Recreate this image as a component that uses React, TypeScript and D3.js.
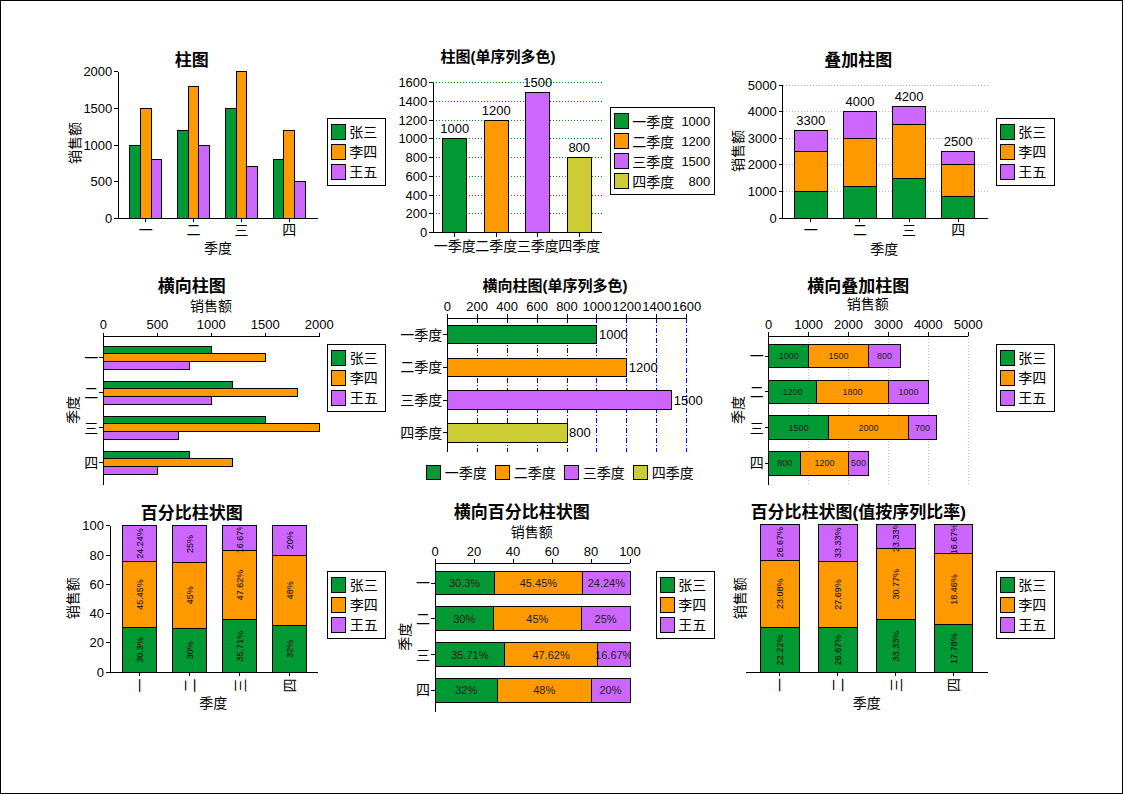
import React from "react";
import * as d3 from "d3";

const quarters = ["一", "二", "三", "四"];
const quarterNames = ["一季度", "二季度", "三季度", "四季度"];
const seriesNames = ["张三", "李四", "王五"];
const zhangSan = [1000, 1200, 1500, 800];
const liSi = [1500, 1800, 2000, 1200];
const wangWu = [800, 1000, 700, 500];
const singleValues = [1000, 1200, 1500, 800];
const seriesColors = ["#009933", "#ff9900", "#cc66ff"];
const quarterColors = ["#009933", "#ff9900", "#cc66ff", "#cccc33"];
const ticksGroup = [0, 500, 1000, 1500, 2000];
const ticksSingle = [0, 200, 400, 600, 800, 1000, 1200, 1400, 1600];
const ticksStack = [0, 1000, 2000, 3000, 4000, 5000];
const ticksPct = [0, 20, 40, 60, 80, 100];
const titles = [
  "柱图",
  "柱图(单序列多色)",
  "叠加柱图",
  "横向柱图",
  "横向柱图(单序列多色)",
  "横向叠加柱图",
  "百分比柱状图",
  "横向百分比柱状图",
  "百分比柱状图(值按序列比率)",
];
const valueAxisTitle = "销售额";
const categoryAxisTitle = "季度";

const seriesValues = [zhangSan, liSi, wangWu];

const FONT = '"Liberation Sans", "Noto Sans CJK SC", sans-serif';

const rows = quarters.map((q, i) => {
  const r: any = { q };
  seriesNames.forEach((s, j) => (r[s] = seriesValues[j][i]));
  return r;
});
const stacked = d3.stack<any>().keys(seriesNames)(rows);
const stackedPct = d3.stack<any>().keys(seriesNames).offset(d3.stackOffsetExpand)(rows);
const totals = rows.map((r) => d3.sum(seriesNames, (s) => r[s]));
const seriesTotals = seriesValues.map((v) => d3.sum(v));
const fmtPct = (v: number) => `${+v.toFixed(2)}%`;

function Title({ x, y, text, size = 17 }: any) {
  return (
    <text x={x} y={y} textAnchor="middle" dominantBaseline="central" fontSize={size} fontWeight="bold" fontFamily={FONT}>
      {text}
    </text>
  );
}

function Label({ x, y, text, rotate = false, size = 14 }: any) {
  return (
    <text
      transform={`translate(${x},${y})${rotate ? " rotate(-90)" : ""}`}
      textAnchor="middle"
      dominantBaseline="central"
      fontSize={size}
      fontFamily={FONT}
    >
      {text}
    </text>
  );
}

function Legend({ x, y, w, names, colors, values }: any) {
  const h = names.length * 20 + 7;
  return (
    <g>
      <rect x={x} y={y} width={w} height={h} fill="#fff" stroke="#000" />
      {names.map((n: string, i: number) => (
        <g key={n}>
          <rect x={x + 4} y={y + 6 + i * 20} width={14} height={15} fill={colors[i]} stroke="#000" />
          <text x={x + 22} y={y + 6 + i * 20 + 8} dominantBaseline="central" fontSize={14} fontFamily={FONT}>
            {n}
          </text>
          {values && (
            <text x={x + w - 4} y={y + 6 + i * 20 + 8} dominantBaseline="central" textAnchor="end" fontSize={13} fontFamily={FONT}>
              {values[i]}
            </text>
          )}
        </g>
      ))}
    </g>
  );
}

function YAxisLeft({ x, scale, ticks, grid }: any) {
  const [d0, d1] = scale.domain();
  return (
    <g>
      {grid &&
        ticks
          .filter((t: number) => t > 0)
          .map((t: number) => (
            <line key={"g" + t} x1={x} x2={grid.x2} y1={scale(t)} y2={scale(t)} stroke={grid.color} strokeDasharray={grid.dash} />
          ))}
      <line x1={x} x2={x} y1={scale(d1)} y2={scale(d0)} stroke="#000" />
      {ticks.map((t: number) => (
        <g key={t}>
          <line x1={x - 4} x2={x} y1={scale(t)} y2={scale(t)} stroke="#000" />
          <text x={x - 6} y={scale(t)} textAnchor="end" dominantBaseline="central" fontSize={13}>
            {t}
          </text>
        </g>
      ))}
    </g>
  );
}

function XAxisTop({ y, scale, ticks, grid }: any) {
  const [d0, d1] = scale.domain();
  return (
    <g>
      {grid &&
        ticks
          .filter((t: number) => t > 0)
          .map((t: number) => (
            <line key={"g" + t} x1={scale(t)} x2={scale(t)} y1={y} y2={grid.y2} stroke={grid.color} strokeDasharray={grid.dash} />
          ))}
      <line x1={scale(d0)} x2={scale(d1)} y1={y} y2={y} stroke="#000" />
      {ticks.map((t: number) => (
        <g key={t}>
          <line x1={scale(t)} x2={scale(t)} y1={y - 4} y2={y} stroke="#000" />
          <text x={scale(t)} y={y - 12} textAnchor="middle" dominantBaseline="central" fontSize={13}>
            {t}
          </text>
        </g>
      ))}
    </g>
  );
}

function XCatBottom({ y, x0, x1, band, labels, labelY, rotate = false, size = 14 }: any) {
  return (
    <g>
      <line x1={x0} x2={x1} y1={y} y2={y} stroke="#000" />
      {band.domain().map((c: string, i: number) => {
        const cx = band(c) + band.bandwidth() / 2;
        return (
          <g key={c}>
            <line x1={cx} x2={cx} y1={y} y2={y + 4} stroke="#000" />
            <Label x={cx} y={labelY} text={labels[i]} rotate={rotate} size={size} />
          </g>
        );
      })}
    </g>
  );
}

function YCatLeft({ x, y0, y1, band, labels }: any) {
  return (
    <g>
      <line x1={x} x2={x} y1={y0} y2={y1} stroke="#000" />
      {band.domain().map((c: string, i: number) => {
        const cy = band(c) + band.bandwidth() / 2;
        return (
          <g key={c}>
            <line x1={x - 4} x2={x} y1={cy} y2={cy} stroke="#000" />
            <text x={x - 5} y={cy} textAnchor="end" dominantBaseline="central" fontSize={14}>
              {labels[i]}
            </text>
          </g>
        );
      })}
    </g>
  );
}

function Panel1() {
  const y = d3.scaleLinear().domain([0, 2000]).range([218.3, 71.7]);
  const xb = d3.scaleBand().domain(quarters).range([121.7, 313.3]).paddingInner(0.32).paddingOuter(0.16);
  const xs = d3.scaleBand().domain(seriesNames).range([0, xb.bandwidth()]);
  return (
    <g>
      <Title x={191.7} y={60} text={titles[0]} />
      {quarters.map((q, i) =>
        seriesNames.map((s, j) => (
          <rect
            key={q + s}
            x={(xb(q) as number) + (xs(s) as number)}
            y={y(seriesValues[j][i])}
            width={xs.bandwidth()}
            height={y(0) - y(seriesValues[j][i])}
            fill={seriesColors[j]}
            stroke="#000"
          />
        ))
      )}
      <YAxisLeft x={118.3} scale={y} ticks={ticksGroup} />
      <XCatBottom y={218.3} x0={118.3} x1={318} band={xb} labels={quarters} labelY={230} />
      <Label x={75} y={143} text={valueAxisTitle} rotate />
      <Label x={218} y={248} text={categoryAxisTitle} />
      <Legend x={327.3} y={118.3} w={58} names={seriesNames} colors={seriesColors} />
    </g>
  );
}

function Panel2() {
  const y = d3.scaleLinear().domain([0, 1600]).range([232.7, 82.7]);
  const xb = d3.scaleBand().domain(quarterNames).range([434, 600]).paddingInner(0.42).paddingOuter(0.21);
  return (
    <g>
      <Title x={498} y={56.7} text={titles[1]} size={15} />
      <YAxisLeft x={433.3} scale={y} ticks={ticksSingle} grid={{ x2: 601.7, color: "#009900", dash: "1,2" }} />
      {quarterNames.map((q, i) => (
        <g key={q}>
          <rect
            x={xb(q)}
            y={y(singleValues[i])}
            width={xb.bandwidth()}
            height={y(0) - y(singleValues[i])}
            fill={quarterColors[i]}
            stroke="#000"
          />
          <text x={(xb(q) as number) + xb.bandwidth() / 2} y={y(singleValues[i]) - 10} textAnchor="middle" dominantBaseline="central" fontSize={13}>
            {singleValues[i]}
          </text>
        </g>
      ))}
      <XCatBottom y={232.7} x0={433.3} x1={601.7} band={xb} labels={quarterNames} labelY={245.5} />
      <Legend x={610.3} y={107.7} w={104} names={quarterNames} colors={quarterColors} values={singleValues} />
    </g>
  );
}

function Panel3() {
  const y = d3.scaleLinear().domain([0, 5000]).range([218.3, 85]);
  const xb = d3.scaleBand().domain(quarters).range([786.1, 982.9]).paddingInner(0.33).paddingOuter(0.165);
  return (
    <g>
      <Title x={858.3} y={60} text={titles[2]} />
      <YAxisLeft x={782.7} scale={y} ticks={ticksStack} grid={{ x2: 987.7, color: "#b8b8e8", dash: "1,2" }} />
      {stacked.map((layer, j) =>
        layer.map((d, i) => (
          <rect
            key={j + "-" + i}
            x={xb(quarters[i])}
            y={y(d[1])}
            width={xb.bandwidth()}
            height={y(d[0]) - y(d[1])}
            fill={seriesColors[j]}
            stroke="#000"
          />
        ))
      )}
      {quarters.map((q, i) => (
        <text key={q} x={(xb(q) as number) + xb.bandwidth() / 2} y={y(totals[i]) - 10} textAnchor="middle" dominantBaseline="central" fontSize={13}>
          {totals[i]}
        </text>
      ))}
      <XCatBottom y={218.3} x0={782.7} x1={987.7} band={xb} labels={quarters} labelY={230} />
      <Label x={738.3} y={151} text={valueAxisTitle} rotate />
      <Label x={884.3} y={249} text={categoryAxisTitle} />
      <Legend x={996.3} y={118.3} w={58} names={seriesNames} colors={seriesColors} />
    </g>
  );
}

function Panel4() {
  const x = d3.scaleLinear().domain([0, 2000]).range([103.3, 319.3]);
  const yb = d3.scaleBand().domain(quarters).range([340.2, 480.2]).paddingInner(0.354).paddingOuter(0.177);
  const ys = d3.scaleBand().domain(seriesNames).range([0, yb.bandwidth()]);
  return (
    <g>
      <Title x={191.7} y={286} text={titles[3]} />
      <Label x={211} y={306} text={valueAxisTitle} />
      {quarters.map((q, i) =>
        seriesNames.map((s, j) => (
          <rect
            key={q + s}
            x={x(0)}
            y={(yb(q) as number) + (ys(s) as number)}
            width={x(seriesValues[j][i]) - x(0)}
            height={ys.bandwidth()}
            fill={seriesColors[j]}
            stroke="#000"
          />
        ))
      )}
      <XAxisTop y={336.7} scale={x} ticks={ticksGroup} />
      <YCatLeft x={103.3} y0={336.7} y1={485} band={yb} labels={quarters} />
      <Label x={73.3} y={410} text={categoryAxisTitle} rotate />
      <Legend x={327.7} y={344} w={58} names={seriesNames} colors={seriesColors} />
    </g>
  );
}

function Panel5() {
  const x = d3.scaleLinear().domain([0, 1600]).range([447.3, 686.7]);
  const yb = d3.scaleBand().domain(quarterNames).range([318.3, 449.1]).paddingInner(0.43).paddingOuter(0.215);
  return (
    <g>
      <Title x={555} y={285} text={titles[4]} size={15} />
      <XAxisTop y={318.3} scale={x} ticks={ticksSingle} grid={{ y2: 451.7, color: "#0000ff", dash: "5,2,1,2" }} />
      {quarterNames.map((q, i) => (
        <g key={q}>
          <rect x={x(0)} y={yb(q)} width={x(singleValues[i]) - x(0)} height={yb.bandwidth()} fill={quarterColors[i]} stroke="#000" />
          <text x={x(singleValues[i]) + 2} y={(yb(q) as number) + yb.bandwidth() / 2} dominantBaseline="central" fontSize={13}>
            {singleValues[i]}
          </text>
        </g>
      ))}
      <YCatLeft x={447.3} y0={318.3} y1={451.7} band={yb} labels={quarterNames} />
      {quarterNames.map((q, i) => (
        <g key={"lg" + q}>
          <rect x={426.7 + i * 69} y={465.5} width={14} height={14} fill={quarterColors[i]} stroke="#000" />
          <text x={426.7 + i * 69 + 18} y={472.5} dominantBaseline="central" fontSize={14}>
            {q}
          </text>
        </g>
      ))}
    </g>
  );
}

function Panel6() {
  const x = d3.scaleLinear().domain([0, 5000]).range([768.7, 968.3]);
  const yb = d3.scaleBand().domain(quarters).range([338.1, 481.3]).paddingInner(0.35).paddingOuter(0.175);
  return (
    <g>
      <Title x={858.3} y={286} text={titles[5]} />
      <Label x={867.7} y={304.3} text={valueAxisTitle} />
      <XAxisTop y={336} scale={x} ticks={ticksStack} grid={{ y2: 485, color: "#b8b8e8", dash: "1,2" }} />
      {stacked.map((layer, j) =>
        layer.map((d, i) => (
          <g key={j + "-" + i}>
            <rect
              x={x(d[0])}
              y={yb(quarters[i])}
              width={x(d[1]) - x(d[0])}
              height={yb.bandwidth()}
              fill={seriesColors[j]}
              stroke="#000"
            />
            <text
              x={(x(d[0]) + x(d[1])) / 2}
              y={(yb(quarters[i]) as number) + yb.bandwidth() / 2}
              textAnchor="middle"
              dominantBaseline="central"
              fontSize={9}
              fill="#222"
            >
              {seriesValues[j][i]}
            </text>
          </g>
        ))
      )}
      <YCatLeft x={768.7} y0={336} y1={485} band={yb} labels={quarters} />
      <Label x={738.3} y={410} text={categoryAxisTitle} rotate />
      <Legend x={996.3} y={344} w={58} names={seriesNames} colors={seriesColors} />
    </g>
  );
}

function Panel7() {
  const y = d3.scaleLinear().domain([0, 100]).range([672.3, 525.7]);
  const xb = d3.scaleBand().domain(quarters).range([114.7, 314.7]).paddingInner(0.32).paddingOuter(0.16);
  return (
    <g>
      <defs>
        <clipPath id="clip7">
          <rect x={110} y={525.7} width={210} height={146.6} />
        </clipPath>
      </defs>
      <Title x={191.7} y={513.3} text={titles[6]} />
      {stackedPct.map((layer, j) =>
        layer.map((d, i) => (
          <rect
            key={j + "-" + i}
            x={xb(quarters[i])}
            y={y(d[1] * 100)}
            width={xb.bandwidth()}
            height={y(d[0] * 100) - y(d[1] * 100)}
            fill={seriesColors[j]}
            stroke="#000"
          />
        ))
      )}
      <g clipPath="url(#clip7)">
        {stackedPct.map((layer, j) =>
          layer.map((d, i) => (
            <Label
              key={"t" + j + "-" + i}
              x={(xb(quarters[i]) as number) + xb.bandwidth() / 2}
              y={(y(d[0] * 100) + y(d[1] * 100)) / 2}
              text={fmtPct((seriesValues[j][i] / totals[i]) * 100)}
              rotate
              size={9}
            />
          ))
        )}
      </g>
      <YAxisLeft x={110} scale={y} ticks={ticksPct} />
      <XCatBottom y={672.3} x0={110} x1={318.3} band={xb} labels={quarters} labelY={685.5} rotate />
      <Label x={73.3} y={598.3} text={valueAxisTitle} rotate />
      <Label x={213.3} y={703.3} text={categoryAxisTitle} />
      <Legend x={327.7} y={571} w={58} names={seriesNames} colors={seriesColors} />
    </g>
  );
}

function Panel8() {
  const x = d3.scaleLinear().domain([0, 100]).range([435, 630]);
  const yb = d3.scaleBand().domain(quarters).range([565.1, 708.3]).paddingInner(0.34).paddingOuter(0.17);
  return (
    <g>
      <defs>
        <clipPath id="clip8">
          <rect x={435} y={563} width={195.5} height={150} />
        </clipPath>
      </defs>
      <Title x={521.7} y={512.3} text={titles[7]} />
      <Label x={531.7} y={532.3} text={valueAxisTitle} />
      <XAxisTop y={563.3} scale={x} ticks={ticksPct} />
      {stackedPct.map((layer, j) =>
        layer.map((d, i) => (
          <rect
            key={j + "-" + i}
            x={x(d[0] * 100)}
            y={yb(quarters[i])}
            width={x(d[1] * 100) - x(d[0] * 100)}
            height={yb.bandwidth()}
            fill={seriesColors[j]}
            stroke="#000"
          />
        ))
      )}
      <g clipPath="url(#clip8)">
        {stackedPct.map((layer, j) =>
          layer.map((d, i) => (
            <text
              key={"t" + j + "-" + i}
              x={(x(d[0] * 100) + x(d[1] * 100)) / 2}
              y={(yb(quarters[i]) as number) + yb.bandwidth() / 2}
              textAnchor="middle"
              dominantBaseline="central"
              fontSize={11}
              fill="#222"
            >
              {fmtPct((seriesValues[j][i] / totals[i]) * 100)}
            </text>
          ))
        )}
      </g>
      <YCatLeft x={435} y0={563.3} y1={711.7} band={yb} labels={quarters} />
      <Label x={405} y={636.7} text={categoryAxisTitle} rotate />
      <Legend x={656.3} y={571} w={58} names={seriesNames} colors={seriesColors} />
    </g>
  );
}

function Panel9() {
  const y = d3.scaleLinear().domain([0, 100]).range([672.3, 524.3]);
  const xb = d3.scaleBand().domain(quarters).range([750.9, 982.5]).paddingInner(0.33).paddingOuter(0.165);
  return (
    <g>
      <defs>
        <clipPath id="clip9">
          <rect x={746} y={524.3} width={242} height={148} />
        </clipPath>
      </defs>
      <Title x={858.3} y={512.3} text={titles[8]} />
      {stackedPct.map((layer, j) =>
        layer.map((d, i) => (
          <rect
            key={j + "-" + i}
            x={xb(quarters[i])}
            y={y(d[1] * 100)}
            width={xb.bandwidth()}
            height={y(d[0] * 100) - y(d[1] * 100)}
            fill={seriesColors[j]}
            stroke="#000"
          />
        ))
      )}
      <g clipPath="url(#clip9)">
        {stackedPct.map((layer, j) =>
          layer.map((d, i) => (
            <Label
              key={"t" + j + "-" + i}
              x={(xb(quarters[i]) as number) + xb.bandwidth() / 2}
              y={(y(d[0] * 100) + y(d[1] * 100)) / 2}
              text={fmtPct((seriesValues[j][i] / seriesTotals[j]) * 100)}
              rotate
              size={9}
            />
          ))
        )}
      </g>
      <XCatBottom y={672.3} x0={746} x1={987.7} band={xb} labels={quarters} labelY={685} rotate />
      <Label x={740} y={598.3} text={valueAxisTitle} rotate />
      <Label x={866.7} y={703.3} text={categoryAxisTitle} />
      <Legend x={996.3} y={571} w={58} names={seriesNames} colors={seriesColors} />
    </g>
  );
}

export default function App() {
  return (
    <div style={{ position: "absolute", left: 0, top: 0, width: 1123, height: 794, background: "#fff" }}>
      <svg width={1123} height={794} style={{ display: "block" }} fontFamily={FONT}>
        <rect x={0.5} y={0.5} width={1122} height={793} fill="#fff" stroke="#000" />
        <g shapeRendering="crispEdges">
          <Panel1 />
          <Panel2 />
          <Panel3 />
          <Panel4 />
          <Panel5 />
          <Panel6 />
          <Panel7 />
          <Panel8 />
          <Panel9 />
        </g>
      </svg>
    </div>
  );
}
